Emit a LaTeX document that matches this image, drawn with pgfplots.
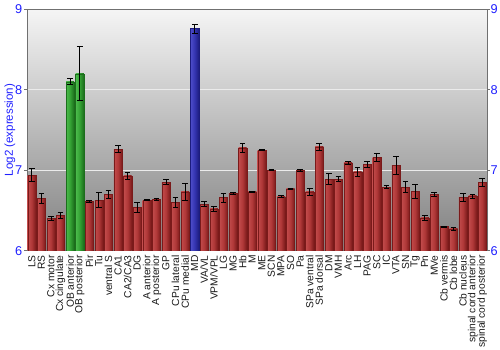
\documentclass[border=0pt]{standalone}
\usepackage{pgfplots}
\pgfplotsset{compat=1.18}
\usepackage{pgfplotstable}
\usepackage{fontspec}
\setmainfont{Liberation Sans}
\definecolor{rdark}{HTML}{7A1A1A}
\definecolor{rmid}{HTML}{B03838}
\definecolor{rlight}{HTML}{C24C4C}
\definecolor{gdark}{HTML}{1C6E1C}
\definecolor{gmid}{HTML}{34A234}
\definecolor{glight}{HTML}{4CBC4C}
\definecolor{bdark}{HTML}{1C1C7E}
\definecolor{bmid}{HTML}{3434B0}
\definecolor{blight}{HTML}{4C4CC8}
\definecolor{tickblue}{HTML}{2020FF}
\definecolor{framegray}{HTML}{707070}
\pgfplotstableread{
x y e
0 6.94 0.08
1 6.65 0.06
2 6.40 0.03
3 6.44 0.04
4 8.10 0.035
5 8.20 0.335
6 6.61 0.015
7 6.63 0.09
8 6.70 0.045
9 7.26 0.045
10 6.93 0.04
11 6.54 0.06
12 6.63 0.003
13 6.64 0.015
14 6.85 0.03
15 6.60 0.06
16 6.73 0.11
17 8.76 0.055
18 6.58 0.035
19 6.52 0.027
20 6.66 0.055
21 6.71 0.015
22 7.28 0.058
23 6.73 0.005
24 7.25 0.008
25 7.00 0.008
26 6.67 0.012
27 6.77 0.008
28 7.00 0.01
29 6.73 0.045
30 7.29 0.045
31 6.89 0.07
32 6.89 0.03
33 7.09 0.015
34 6.98 0.06
35 7.07 0.037
36 7.16 0.054
37 6.79 0.015
38 7.06 0.11
39 6.79 0.065
40 6.74 0.085
41 6.41 0.033
42 6.70 0.025
43 6.30 0.005
44 6.27 0.015
45 6.66 0.05
46 6.68 0.025
47 6.85 0.05
}\datatab
\begin{document}
\begin{tikzpicture}
\begin{axis}[
  name=ax,
  scale only axis, width=460bp, height=241.4bp,
  xmin=-0.5, xmax=47.5, ymin=6, ymax=9,
  ybar, bar width=8.2bp,
  axis background/.style={top color=black!4, bottom color=black!50},
  axis line style={framegray, line width=0.8pt},
  ytick={6,7,8,9},
  ytick pos=both, tick align=outside,
  major tick length=3bp,
  y tick style={framegray, line width=0.8pt},
  x tick style={draw=none},
  ymajorgrids, grid style={white!92!black, line width=1pt},
  yticklabel style={tickblue, font=\fontsize{12.8}{13}\selectfont, inner sep=1.5bp},
  /pgf/number format/assume math mode=true,
  ylabel={Log2 (expression)},
  ylabel style={tickblue, font=\fontsize{11.6}{12}\selectfont, yshift=-5bp},
  xtick={0,...,47},
  xticklabels={LS,RS,Cx motor,Cx cingulate,OB anterior,OB posterior,Pir,Tu,ventral S,CA1,CA2/CA3,DG,A anterior,A posterior,GP,CPu lateral,CPu medial,MD,VA/VL,VPM/VPL,LG,MG,Hb,M,ME,SCN,MPA,SO,Pa,SPa ventral,SPa dorsal,DM,VMH,Arc,LH,PAG,SC,IC,VTA,SN,Tg,Pn,MVe,Cb vermis,Cb lobe,Cb nucleus,spinal cord anterior,spinal cord posterior},
  xticklabel style={rotate=90, anchor=east, font=\fontsize{10.3}{10.3}\selectfont, inner sep=1.5bp, black!90},
  error bars/error bar style={black, line width=0.9pt},
  error bars/error mark options={rotate=90, mark size=2.8bp, black, line width=0.9pt},
  redbar/.style={draw=rdark, line width=0.3pt, left color=rlight, right color=rdark, middle color=rmid},
  greenbar/.style={draw=gdark, line width=0.3pt, left color=glight, right color=gdark, middle color=gmid},
  bluebar/.style={draw=bdark, line width=0.3pt, left color=blight, right color=bdark, middle color=bmid},
]
\pgfplotsinvokeforeach{0,1,2,3,6,7,8,9,10,11,12,13,14,15,16,18,19,20,21,22,23,24,25,26,27,28,29,30,31,32,33,34,35,36,37,38,39,40,41,42,43,44,45,46,47}{
\addplot[bar shift=0pt, redbar, y filter/.expression={abs(x-#1)<0.2 ? y : nan},
  error bars/.cd, y dir=both, y explicit] table[x=x, y=y, y error=e] {\datatab};
}
\pgfplotsinvokeforeach{4,5}{
\addplot[bar shift=0pt, greenbar, y filter/.expression={abs(x-#1)<0.2 ? y : nan},
  error bars/.cd, y dir=both, y explicit] table[x=x, y=y, y error=e] {\datatab};
}
\addplot[bar shift=0pt, bluebar, y filter/.expression={abs(x-17)<0.2 ? y : nan},
  error bars/.cd, y dir=both, y explicit] table[x=x, y=y, y error=e] {\datatab};
\end{axis}
\begin{axis}[
  scale only axis, width=460bp, height=241.4bp,
  xmin=-0.5, xmax=47.5, ymin=6, ymax=9,
  hide x axis,
  axis y line*=right,
  axis line style={draw=none},
  ytick={6,7,8,9},
  major tick length=0bp,
  yticklabel style={tickblue, font=\fontsize{12.8}{13}\selectfont, xshift=2bp, inner sep=1.5bp},
  /pgf/number format/assume math mode=true,
]
\addplot[draw=none] coordinates {(0,6)};
\end{axis}
\pgfresetboundingbox
\path[use as bounding box] (-27bp,-99.3bp) rectangle (473bp,250.7bp);
\end{tikzpicture}
\end{document}
